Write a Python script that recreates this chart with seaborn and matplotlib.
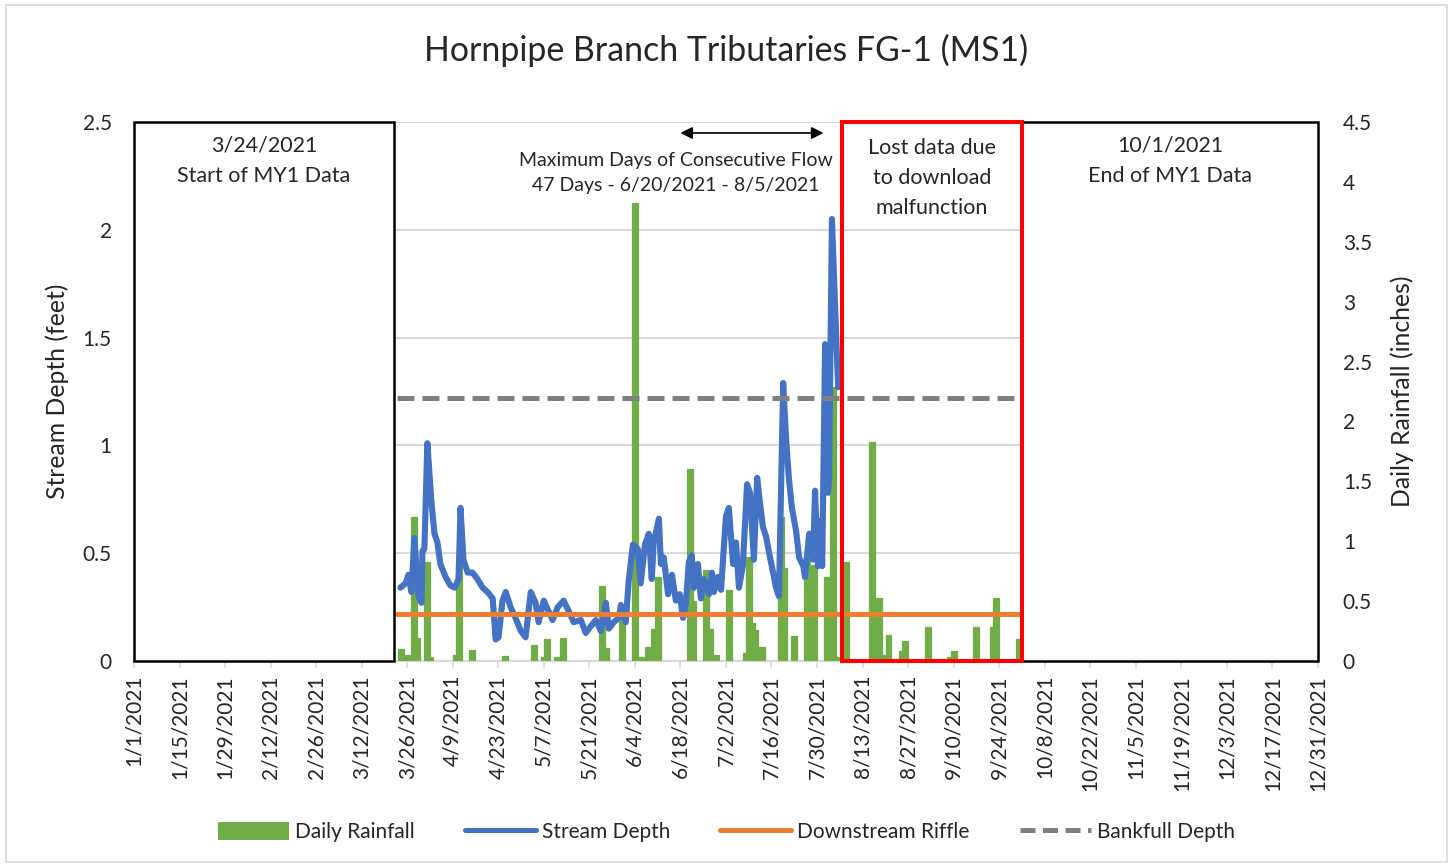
import numpy as np
import pandas as pd
import matplotlib
matplotlib.use("Agg")
import matplotlib.pyplot as plt
import matplotlib.dates as mdates
from matplotlib.patches import Rectangle, Patch
from matplotlib.lines import Line2D
import seaborn as sns

# ---------------- data ----------------
title = "Hornpipe Branch Tributaries FG-1 (MS1)"

rain_dates = ["2021-03-24", "2021-03-26", "2021-03-28", "2021-03-29", "2021-04-01", "2021-04-02",
              "2021-04-10", "2021-04-11", "2021-04-15", "2021-04-25", "2021-05-04", "2021-05-07",
              "2021-05-08", "2021-05-11", "2021-05-13", "2021-05-25", "2021-05-26", "2021-05-31",
              "2021-06-04", "2021-06-06", "2021-06-08", "2021-06-10", "2021-06-11", "2021-06-21",
              "2021-06-22", "2021-06-26", "2021-06-27", "2021-06-29", "2021-07-03", "2021-07-08",
              "2021-07-09", "2021-07-10", "2021-07-11", "2021-07-13", "2021-07-19", "2021-07-20",
              "2021-07-23", "2021-07-27", "2021-07-29", "2021-08-02", "2021-08-04", "2021-08-05",
              "2021-08-08", "2021-08-16", "2021-08-18", "2021-08-19", "2021-08-21", "2021-08-25",
              "2021-08-26", "2021-09-02", "2021-09-09", "2021-09-10", "2021-09-17", "2021-09-22",
              "2021-09-23", "2021-09-30"]
rain_in = [0.10, 0.05, 1.20, 0.19, 0.83, 0.03,
           0.05, 0.79, 0.09, 0.04, 0.13, 0.03,
           0.18, 0.03, 0.19, 0.63, 0.11, 0.35,
           3.82, 0.03, 0.12, 0.27, 0.70, 1.60,
           0.50, 0.76, 0.27, 0.05, 0.59, 0.07,
           0.87, 0.32, 0.26, 0.12, 1.20, 0.78,
           0.21, 0.84, 0.80, 0.70, 2.29, 0.03,
           0.83, 1.83, 0.53, 0.05, 0.22, 0.08,
           0.17, 0.28, 0.03, 0.08, 0.28, 0.28,
           0.53, 0.18]

# stream depth readings: day of year (Jan 1 = 0) and depth in feet
depth_doy = [81.9, 83.5, 84.4, 85.3, 86.2, 87.5, 88.4, 88.7, 89.3, 90.2, 91.5, 92.4, 93.3, 94.2,
             95.8, 97.3, 98.6, 99.8, 100.4, 101.3, 102.6, 104.1, 105.6, 107.2, 108.7, 110.3,
             111.2, 112.1, 113.3, 114.3, 115.8, 117.3, 118.9, 120.4, 122.0, 123.5, 124.4, 126.0,
             127.5, 128.7, 130.3, 132.1, 133.7, 135.2, 137.4, 138.9, 140.4, 142.0, 143.5, 145.1,
             146.0, 147.5, 149.1, 149.7, 151.2, 152.1, 153.4, 154.9, 155.8, 157.1, 158.3, 159.2,
             159.8, 161.4, 162.0, 162.9, 164.2, 165.4, 166.6, 167.8, 168.8, 169.7, 170.6, 171.5,
             172.2, 173.4, 174.3, 175.2, 176.8, 177.7, 178.3, 179.5, 180.5, 182.0, 182.9, 184.2,
             185.1, 186.0, 187.2, 188.5, 189.4, 190.6, 191.6, 192.5, 193.4, 194.3, 195.3, 196.5,
             197.4, 198.3, 199.6, 200.5, 201.4, 202.3, 203.6, 204.5, 205.8, 206.3, 207.6, 208.8,
             209.4, 210.3, 211.0, 211.6, 212.5, 213.4, 213.7, 214.6, 215.6, 216.5]
depth_ft = [0.34, 0.36, 0.40, 0.32, 0.57, 0.30, 0.27, 0.51, 0.52, 1.01, 0.73, 0.59, 0.55, 0.45,
            0.39, 0.35, 0.34, 0.38, 0.71, 0.47, 0.41, 0.41, 0.38, 0.34, 0.32, 0.29,
            0.10, 0.11, 0.28, 0.32, 0.25, 0.20, 0.14, 0.11, 0.32, 0.27, 0.18, 0.28,
            0.23, 0.19, 0.25, 0.28, 0.23, 0.18, 0.19, 0.13, 0.16, 0.19, 0.14, 0.27,
            0.15, 0.18, 0.20, 0.26, 0.18, 0.37, 0.54, 0.52, 0.36, 0.54, 0.59, 0.38,
            0.55, 0.66, 0.45, 0.48, 0.31, 0.40, 0.28, 0.31, 0.20, 0.27, 0.46, 0.49,
            0.34, 0.45, 0.29, 0.38, 0.31, 0.41, 0.32, 0.39, 0.33, 0.67, 0.71, 0.45,
            0.55, 0.34, 0.44, 0.82, 0.78, 0.47, 0.85, 0.73, 0.62, 0.58, 0.50, 0.41,
            0.34, 0.30, 1.29, 1.03, 0.84, 0.71, 0.60, 0.48, 0.44, 0.39, 0.59, 0.47,
            0.79, 0.44, 0.65, 0.44, 1.47, 0.78, 0.85, 2.05, 1.63, 1.27]

riffle_ft = 0.22
bankfull_ft = 1.22
ref_line_span = ["2021-03-23 00:00", "2021-10-01 00:00"]

start_box = ["2021-01-01 00:00", "2021-03-22 00:00"]
lost_box = ["2021-08-06 16:00", "2021-10-01 00:00"]
end_box = ["2021-10-01 00:00", "2021-12-31 00:00"]
flow_arrow = ["2021-06-18 00:00", "2021-08-01 00:00"]
flow_text_date = "2021-06-16 12:00"

start_text = "3/24/2021\nStart of MY1 Data"
end_text = "10/1/2021\nEnd of MY1 Data"
lost_text = "Lost data due\nto download\nmalfunction"
flow_text = "Maximum Days of Consecutive Flow\n47 Days - 6/20/2021 - 8/5/2021"

depth_ticks = [0, 0.5, 1, 1.5, 2, 2.5]
depth_tick_labels = ["0", "0.5", "1", "1.5", "2", "2.5"]
rain_ticks = [0, 0.5, 1, 1.5, 2, 2.5, 3, 3.5, 4, 4.5]
rain_tick_labels = ["0", "0.5", "1", "1.5", "2", "2.5", "3", "3.5", "4", "4.5"]

# ---------------- colours ----------------
C_RAIN = "#70ad47"
C_DEPTH = "#4472c4"
C_RIFFLE = "#ed7d31"
C_BANK = "#7f7f7f"
C_GRID = "#d9d9d9"

sns.set_theme(style="white")
plt.rcParams["font.family"] = ["Lato", "DejaVu Sans"]
FS = 15

rain_df = pd.DataFrame({"date": pd.to_datetime(rain_dates), "rain": rain_in})
depth_df = pd.DataFrame({
    "date": pd.Timestamp("2021-01-01") + pd.to_timedelta(depth_doy, unit="D"),
    "depth": depth_ft,
})
span = pd.to_datetime(ref_line_span)
ref_df = pd.DataFrame({
    "date": list(span) * 2,
    "value": [riffle_ft, riffle_ft, bankfull_ft, bankfull_ft],
    "kind": ["Downstream Riffle"] * 2 + ["Bankfull Depth"] * 2,
})

fig = plt.figure(figsize=(14.53, 8.67), dpi=100)
ax = fig.add_axes([0.0922, 0.2376, 0.8148, 0.6217])
ax2 = ax.twinx()
ax3 = ax.twinx()

# grid on the depth axis (back)
ax.set_ylim(0, 2.5)
ax.set_yticks(depth_ticks)
ax.set_yticklabels(depth_tick_labels, fontsize=FS)
ax.yaxis.grid(True, color=C_GRID, lw=1.5)
ax.set_axisbelow(True)

# rainfall bars
ax2.bar(rain_df["date"], rain_df["rain"], width=1.8, color=C_RAIN, edgecolor=C_RAIN,
        linewidth=0.9, zorder=2)
ax2.set_ylim(0, 4.5)
ax2.set_yticks(rain_ticks)
ax2.set_yticklabels(rain_tick_labels, fontsize=FS)

# depth line and reference lines
ax3.set_ylim(0, 2.5)
sns.lineplot(data=depth_df, x="date", y="depth", ax=ax3, color=C_DEPTH, lw=4.4,
             solid_joinstyle="round", solid_capstyle="round", zorder=4)
sns.lineplot(data=ref_df[ref_df["kind"] == "Downstream Riffle"], x="date", y="value", ax=ax3,
             color=C_RIFFLE, lw=3.6, zorder=5)
sns.lineplot(data=ref_df[ref_df["kind"] == "Bankfull Depth"], x="date", y="value", ax=ax3,
             color=C_BANK, lw=3.6, zorder=5, linestyle=(0, (3.4, 1.6)))
ax3.set_yticks([])
ax3.set_ylabel("")
ax3.set_xlabel("")

# boxes
def box(dates, edge, lw, fill):
    d0, d1 = mdates.date2num(pd.to_datetime(dates))
    r = Rectangle((d0, 0), d1 - d0, 2.5, facecolor="white" if fill else "none",
                  edgecolor=edge, lw=lw, clip_on=False, zorder=6)
    ax3.add_patch(r)
    return (d0 + d1) / 2

cx_start = box(start_box, "black", 1.8, True)
cx_end = box(end_box, "black", 1.8, True)
cx_lost = box(lost_box, "#ff0000", 2.9, False)

ax3.text(cx_start, 2.32, start_text, ha="center", va="center", fontsize=15.5, linespacing=1.68, zorder=7)
ax3.text(cx_end, 2.32, end_text, ha="center", va="center", fontsize=15.5, linespacing=1.68, zorder=7)
ax3.text(cx_lost, 2.24, lost_text, ha="center", va="center", fontsize=15.5, linespacing=1.6, zorder=7)

a0, a1 = mdates.date2num(pd.to_datetime(flow_arrow))
ax3.annotate("", xy=(a1, 2.449), xytext=(a0, 2.449),
             arrowprops=dict(arrowstyle="<|-|>", color="black", lw=1.2, mutation_scale=18,
                             shrinkA=0, shrinkB=0), zorder=7)
ax3.text(mdates.date2num(pd.Timestamp(flow_text_date)), 2.262, flow_text, ha="center",
         va="center", fontsize=14, linespacing=1.55, zorder=7)

# x axis
xt = pd.date_range("2021-01-01", "2021-12-31", freq="14D")
for a in (ax, ax2, ax3):
    a.set_xlim(pd.Timestamp("2021-01-01"), pd.Timestamp("2021-12-31"))
    for s in ("top", "left", "right", "bottom"):
        a.spines[s].set_visible(False)
ax.spines["bottom"].set_visible(True)
ax.spines["bottom"].set_color(C_GRID)
ax.spines["bottom"].set_linewidth(1.5)
ax.set_xticks(xt)
ax.set_xticklabels([f"{d.month}/{d.day}/{d.year}" for d in xt], rotation=90, fontsize=FS)
ax.tick_params(axis="x", length=5, width=1.2, color=C_GRID, pad=5, bottom=True)
ax.tick_params(axis="y", length=0, pad=16)
ax2.tick_params(axis="y", length=0, pad=18)
ax3.tick_params(axis="x", bottom=False, labelbottom=False)
ax2.tick_params(axis="x", bottom=False, labelbottom=False)

ax.set_xlabel("")
ax.set_ylabel("Stream Depth (feet)", fontsize=17.8)
ax.yaxis.set_label_coords(-0.055, 0.5)
ax2.set_ylabel("Daily Rainfall (inches)", fontsize=17.8, rotation=90)
ax2.yaxis.set_label_coords(1.061, 0.5)

fig.suptitle(title, fontsize=24.4, y=0.942, va="center")

handles = [Patch(facecolor=C_RAIN, edgecolor="none"),
           Line2D([], [], color=C_DEPTH, lw=3.6),
           Line2D([], [], color=C_RIFFLE, lw=3.6),
           Line2D([], [], color=C_BANK, lw=3.6, linestyle=(0, (3.0, 1.5)))]
labels = ["Daily Rainfall", "Stream Depth", "Downstream Riffle", "Bankfull Depth"]
fig.legend(handles, labels, loc="center", bbox_to_anchor=(0.5, 0.04), ncol=4, frameon=False,
           fontsize=FS, handlelength=3.4, handleheight=0.9, handletextpad=0.3, columnspacing=2.4)

fig.add_artist(Rectangle((0.004, 0.006), 0.992, 0.988, transform=fig.transFigure,
                         facecolor="none", edgecolor=C_GRID, lw=1.2))

fig.savefig("out.png", dpi=100)
